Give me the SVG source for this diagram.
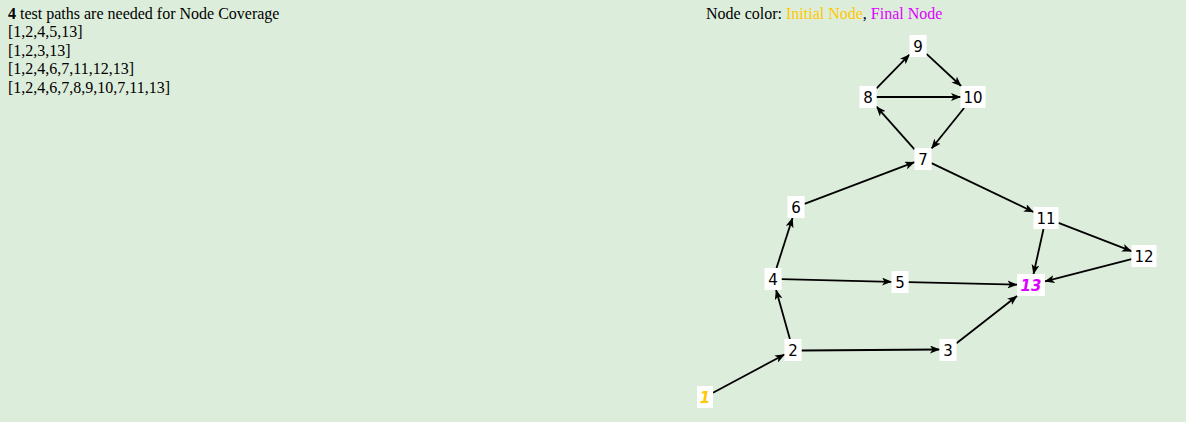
<svg xmlns="http://www.w3.org/2000/svg" width="1186" height="422" viewBox="0 0 1186 422">
<style>
.bg{fill:#ddeddb}
.info{font-family:"Liberation Serif","Times New Roman",serif;font-size:16px;fill:#000}
.box{fill:#fff}
.lbl{font-family:"DejaVu Sans",Verdana,sans-serif;font-size:15px;fill:#000;text-anchor:middle}
.init{fill:#ffc800;font-weight:bold;font-style:italic}
.fin{fill:#dd00ff;font-weight:bold;font-style:italic}
.edge{stroke:#000;stroke-width:1.8;fill:none;marker-end:url(#arr)}
</style>
<defs>
<marker id="arr" markerUnits="userSpaceOnUse" markerWidth="10" markerHeight="8" refX="9.5" refY="4" orient="auto">
<path d="M0,0 L10,4 L0,8 L2.5,4 z" fill="#000"/>
</marker>
</defs>
<rect class="bg" x="0" y="0" width="1186" height="422"/>
<g id="info">
<text class="info" x="8" y="19"><tspan font-weight="bold">4</tspan> test paths are needed for Node Coverage</text>
<text class="info" x="8" y="37.4">[1,2,4,5,13]</text>
<text class="info" x="8" y="55.8">[1,2,3,13]</text>
<text class="info" x="8" y="74.2">[1,2,4,6,7,11,12,13]</text>
<text class="info" x="8" y="92.6">[1,2,4,6,7,8,9,10,7,11,13]</text>
<text class="info" x="706" y="19">Node color: <tspan fill="#ffc800">Initial Node</tspan>, <tspan fill="#dd00ff">Final Node</tspan></text>
</g>
<g id="edges">
<line class="edge" x1="713" y1="392.7" x2="784.5" y2="354.5"/>
<line class="edge" x1="789.9" y1="339" x2="776.1" y2="290"/>
<line class="edge" x1="801.5" y1="350.5" x2="939.5" y2="349.5"/>
<line class="edge" x1="956.5" y1="343.3" x2="1017" y2="296"/>
<line class="edge" x1="776.5" y1="268" x2="792.5" y2="218"/>
<line class="edge" x1="781.5" y1="279.2" x2="891.5" y2="281.8"/>
<line class="edge" x1="908.5" y1="282.2" x2="1017" y2="284.7"/>
<line class="edge" x1="804.5" y1="203.8" x2="914.5" y2="162.2"/>
<line class="edge" x1="914.5" y1="149.4" x2="876.5" y2="106.6"/>
<line class="edge" x1="931.5" y1="163.1" x2="1033.5" y2="212"/>
<line class="edge" x1="876.5" y1="88.3" x2="909.5" y2="54.7"/>
<line class="edge" x1="876.5" y1="97" x2="960.5" y2="97"/>
<line class="edge" x1="926.5" y1="53.9" x2="961.1" y2="86"/>
<line class="edge" x1="964.1" y1="108" x2="931.5" y2="148.5"/>
<line class="edge" x1="1043.5" y1="229" x2="1033.5" y2="274"/>
<line class="edge" x1="1058.5" y1="222.8" x2="1131.5" y2="251.2"/>
<line class="edge" x1="1131.5" y1="259.2" x2="1045" y2="281.4"/>
</g>
<g id="n1"><rect class="box" x="697" y="386" width="16" height="22"/><text class="lbl init" x="705" y="402.5">1</text></g>
<g id="n2"><rect class="box" x="784.5" y="339" width="17" height="22"/><text class="lbl" x="793" y="355.5">2</text></g>
<g id="n3"><rect class="box" x="939.5" y="339" width="17" height="22"/><text class="lbl" x="948" y="355.5">3</text></g>
<g id="n4"><rect class="box" x="764.5" y="268" width="17" height="22"/><text class="lbl" x="773" y="284.5">4</text></g>
<g id="n5"><rect class="box" x="891.5" y="271" width="17" height="22"/><text class="lbl" x="900" y="287.5">5</text></g>
<g id="n6"><rect class="box" x="787.5" y="196" width="17" height="22"/><text class="lbl" x="796" y="212.5">6</text></g>
<g id="n7"><rect class="box" x="914.5" y="148" width="17" height="22"/><text class="lbl" x="923" y="164.5">7</text></g>
<g id="n8"><rect class="box" x="859.5" y="86" width="17" height="22"/><text class="lbl" x="868" y="102.5">8</text></g>
<g id="n9"><rect class="box" x="909.5" y="35" width="17" height="22"/><text class="lbl" x="918" y="51.5">9</text></g>
<g id="n10"><rect class="box" x="960.5" y="86" width="25" height="22"/><text class="lbl" x="973" y="102.5">10</text></g>
<g id="n11"><rect class="box" x="1033.5" y="207" width="25" height="22"/><text class="lbl" x="1046" y="223.5">11</text></g>
<g id="n12"><rect class="box" x="1131.5" y="245" width="25" height="22"/><text class="lbl" x="1144" y="261.5">12</text></g>
<g id="n13"><rect class="box" x="1017" y="274" width="28" height="22"/><text class="lbl fin" x="1031" y="290.5">13</text></g>
</svg>
